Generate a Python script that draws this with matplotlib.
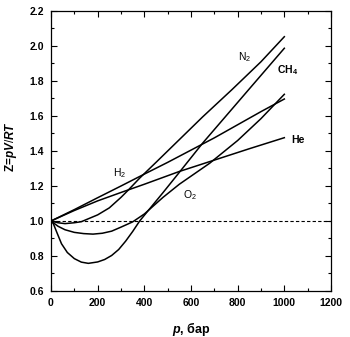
import numpy as np
import matplotlib
matplotlib.use('Agg')
import matplotlib.pyplot as plt
from matplotlib.ticker import MultipleLocator

plt.rcParams['font.family'] = ['Liberation Sans', 'DejaVu Sans']
plt.rcParams['mathtext.fontset'] = 'custom'
plt.rcParams['mathtext.rm'] = 'Liberation Sans'
plt.rcParams['mathtext.bf'] = 'Liberation Sans:bold'
plt.rcParams['mathtext.it'] = 'Liberation Sans:italic:bold'

# compressibility factor Z vs pressure (bar)
p_n2 = [0, 30, 60, 100, 130, 200, 250, 300, 330, 380, 450, 550, 650, 775, 900, 1000]
z_n2 = [1.0, 0.99, 0.985, 0.99, 0.996, 1.035, 1.075, 1.135, 1.175, 1.245, 1.335, 1.465, 1.595, 1.75, 1.91, 2.053]

p_ch4 = [0, 10, 25, 45, 70, 100, 130, 160, 200, 230, 260, 290, 320, 350, 380, 420, 480, 550, 650, 750, 850, 1000]
z_ch4 = [1.0, 0.985, 0.935, 0.87, 0.82, 0.785, 0.765, 0.758, 0.766, 0.78, 0.803, 0.837, 0.885, 0.94, 1.0,
         1.065, 1.162, 1.278, 1.445, 1.6, 1.755, 1.987]

p_o2 = [0, 30, 60, 100, 140, 180, 220, 260, 300, 350, 400, 480, 550, 680, 800, 900, 1000]
z_o2 = [1.0, 0.97, 0.95, 0.935, 0.928, 0.925, 0.93, 0.942, 0.965, 0.995, 1.04, 1.135, 1.21, 1.33, 1.46, 1.585, 1.724]

p_h2 = [0, 100, 200, 300, 400, 500, 600, 700, 800, 900, 1000]
z_h2 = [1.0, 1.065, 1.133, 1.2, 1.268, 1.335, 1.405, 1.475, 1.55, 1.625, 1.697]

p_he = [0, 100, 200, 300, 400, 550, 700, 850, 1000]
z_he = [1.0, 1.06, 1.115, 1.163, 1.21, 1.283, 1.348, 1.413, 1.476]

fig = plt.figure(figsize=(3.5, 3.37), dpi=100)
ax = fig.add_axes([0.1457, 0.1365, 0.8, 0.8309])

for p, z in [(p_n2, z_n2), (p_ch4, z_ch4), (p_o2, z_o2), (p_h2, z_h2), (p_he, z_he)]:
    ax.plot(p, z, color='black', lw=1.1)

ax.axhline(1.0, color='black', lw=0.8, ls=(0, (3, 2)))

ax.text(801, 1.937, r'N$_2$', fontsize=7.5, va='center')
ax.text(969, 1.863, r'$\mathbf{CH_4}$', fontsize=7.5, va='center')
ax.text(1029, 1.463, 'He', fontsize=7.5, fontweight='bold', va='center')
ax.text(266, 1.274, r'H$_2$', fontsize=7.5, va='center')
ax.text(566, 1.149, r'O$_2$', fontsize=7.5, va='center')

ax.set_xlim(0, 1200)
ax.set_ylim(0.6, 2.2)
ax.xaxis.set_major_locator(MultipleLocator(200))
ax.xaxis.set_minor_locator(MultipleLocator(100))
ax.yaxis.set_major_locator(MultipleLocator(0.2))
ax.yaxis.set_minor_locator(MultipleLocator(0.1))
ax.yaxis.set_major_formatter(plt.FormatStrFormatter('%.1f'))
ax.tick_params(which='both', direction='in', top=True, right=True, width=0.8)
ax.tick_params(which='major', length=4, labelsize=7.5, pad=5)
ax.tick_params(which='minor', length=2)
for lab in ax.get_xticklabels() + ax.get_yticklabels():
    lab.set_fontweight('bold')
for s in ax.spines.values():
    s.set_linewidth(0.9)

ax.set_xlabel(r'$\mathit{p}$, бар', fontsize=9, fontweight='bold')
ax.set_ylabel(r'Z=$\mathit{pV/RT}$', fontsize=8.5, fontweight='bold')
ax.xaxis.set_label_coords(0.5, -0.105)
ax.yaxis.set_label_coords(-0.115, 0.515)

fig.savefig('out.png', dpi=100)
